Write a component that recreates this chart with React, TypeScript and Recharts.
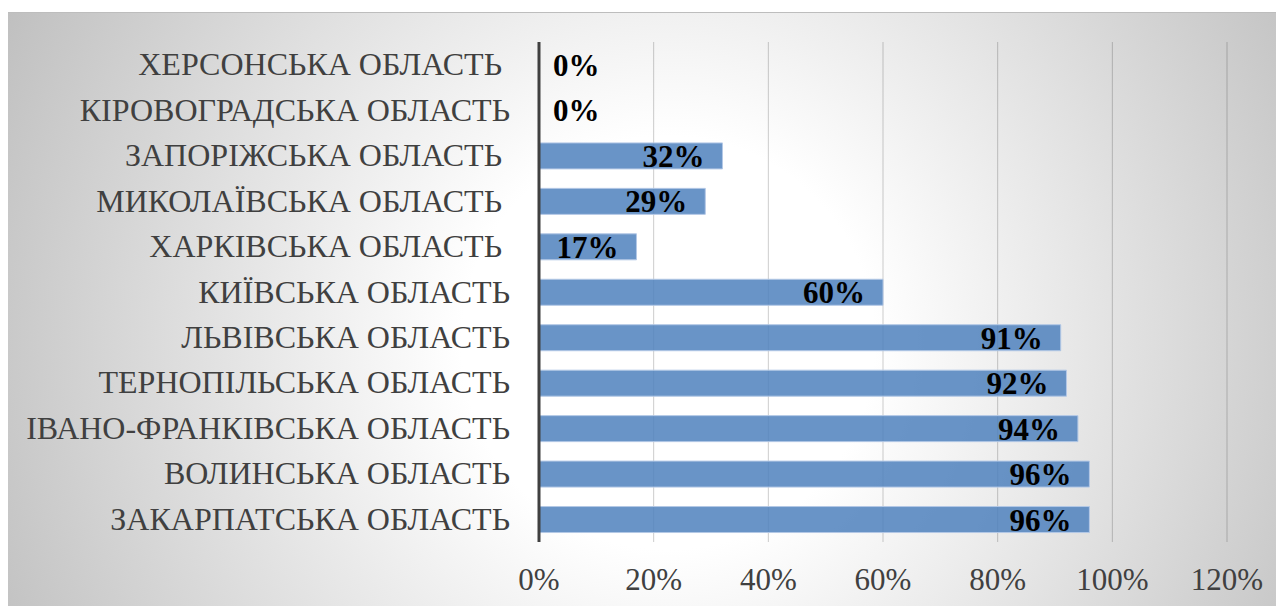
import React from "react";
import { BarChart, Bar, XAxis, YAxis, CartesianGrid, LabelList, Cell } from "recharts";

// Regions, listed top to bottom as they appear on the chart
const regions = [
  "ХЕРСОНСЬКА ОБЛАСТЬ ",
  "КІРОВОГРАДСЬКА ОБЛАСТЬ",
  "ЗАПОРІЖСЬКА ОБЛАСТЬ ",
  "МИКОЛАЇВСЬКА ОБЛАСТЬ ",
  "ХАРКІВСЬКА ОБЛАСТЬ ",
  "КИЇВСЬКА ОБЛАСТЬ",
  "ЛЬВІВСЬКА ОБЛАСТЬ",
  "ТЕРНОПІЛЬСЬКА ОБЛАСТЬ",
  "ІВАНО-ФРАНКІВСЬКА ОБЛАСТЬ",
  "ВОЛИНСЬКА ОБЛАСТЬ",
  "ЗАКАРПАТСЬКА ОБЛАСТЬ",
];

// Share per region, in percent
const shares = [0, 0, 32, 29, 17, 60, 91, 92, 94, 96, 96];

// Value axis ticks, in percent
const xTicks = [0, 20, 40, 60, 80, 100, 120];

const data = regions.map((name, i) => ({ name, share: shares[i] }));

const SERIF = '"Liberation Serif", "Times New Roman", "DejaVu Serif", serif';

const pct = (v: number) => `${v}%`;

const CategoryTick = (props: any) => {
  const { x, y, payload } = props;
  return (
    <text
      x={x - 29}
      y={y + 10.5}
      textAnchor="end"
      fill="#404040"
      fontFamily={SERIF}
      fontSize={32}
      style={{ whiteSpace: "pre" }}
    >
      {payload.value}
    </text>
  );
};

const ValueTick = (props: any) => {
  const { x, y, payload } = props;
  return (
    <text
      x={x}
      y={y + 48}
      textAnchor="middle"
      fill="#404040"
      fontFamily={SERIF}
      fontSize={31}
    >
      {pct(payload.value)}
    </text>
  );
};

// Data label: inside the bar end, or just right of the axis when the bar is empty
const ShareLabel = (props: any) => {
  const { x, y, width, height, index } = props;
  const v = shares[index];
  const atZero = v === 0;
  const lx = atZero ? x + 14 : x + width - 18;
  return (
    <text
      x={lx}
      y={y + height / 2 + 11}
      textAnchor={atZero ? "start" : "end"}
      fill="#000000"
      fontFamily={SERIF}
      fontWeight="bold"
      fontSize={31}
    >
      {pct(v)}
    </text>
  );
};

// Empty bars keep a hairline extent so their labels are still laid out
const minSize = (value: any) => (Number(value) === 0 ? 0.01 : 0);

export default function App() {
  return (
    <div style={{ paddingTop: 4 }}>
      <div
        style={{
          width: 1276,
          height: 593,
          borderTop: "1px solid #bdbdbd",
          background:
            "radial-gradient(circle farthest-corner at 660px 330px, #ffffff 0%, #ffffff 28%, #c0c0c0 100%)",
        }}
      >
        <BarChart
          width={1276}
          height={593}
          data={data}
          layout="vertical"
          margin={{ top: 29, right: 57, bottom: 0, left: 0 }}
          barSize={26}
        >
          <CartesianGrid
            horizontal={false}
            vertical={true}
            stroke="rgba(0,0,0,0.2)"
            strokeWidth={1}
          />
          <XAxis
            type="number"
            domain={[0, 120]}
            ticks={xTicks}
            axisLine={false}
            tickLine={false}
            tickSize={0}
            tickMargin={0}
            height={64}
            tick={<ValueTick />}
            interval={0}
          />
          <YAxis
            type="category"
            dataKey="name"
            width={531}
            axisLine={{ stroke: "#404040", strokeWidth: 3 }}
            tickLine={false}
            tickSize={0}
            tickMargin={0}
            tick={<CategoryTick />}
            interval={0}
          />
          <Bar
            dataKey="share"
            fill="#4F81BD"
            fillOpacity={0.85}
            stroke="#B3C8E6"
            strokeWidth={1}
            minPointSize={minSize}
            isAnimationActive={false}
          >
            {data.map((d, i) => (
              <Cell key={i} stroke={d.share === 0 ? "none" : "#B3C8E6"} />
            ))}
            <LabelList dataKey="share" content={<ShareLabel />} />
          </Bar>
        </BarChart>
      </div>
    </div>
  );
}
